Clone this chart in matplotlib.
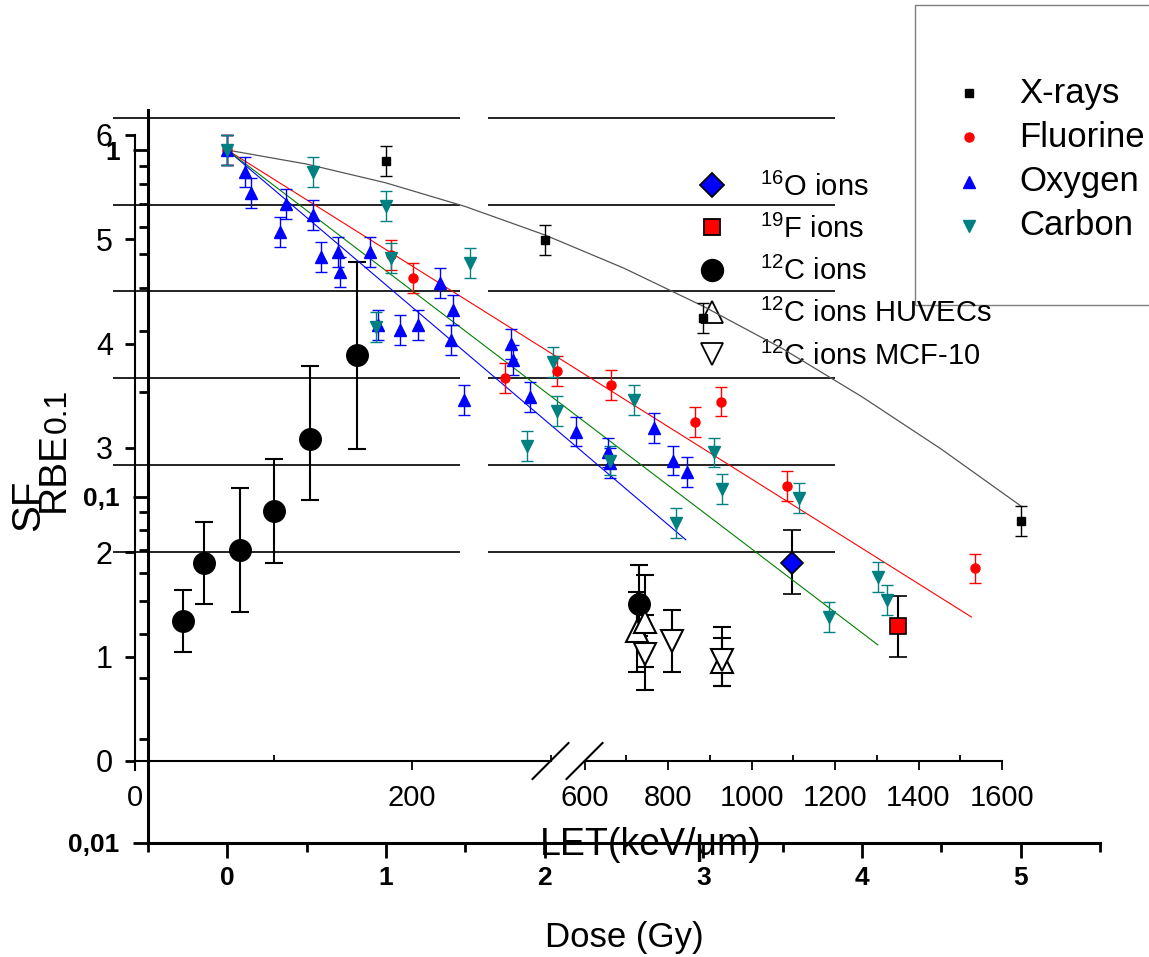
import numpy as np
import matplotlib
matplotlib.use("Agg")
import matplotlib.pyplot as plt
from matplotlib import transforms
from matplotlib.patches import Rectangle

plt.rcParams['font.family'] = ['Liberation Sans', 'DejaVu Sans']
plt.rcParams['mathtext.fontset'] = 'custom'
plt.rcParams['mathtext.rm'] = 'Liberation Sans'
plt.rcParams['mathtext.default'] = 'regular'

####### CONSTANTS #######
W, H = 1149, 957
SF_ERR_DEC = 0.043   # error bar half length in decades

####### DATA: survival fraction vs dose #######
xray_dose = [0, 1, 2, 3, 5]
xray_sf = [1.0, 0.93, 0.55, 0.327, 0.085]
xray_fit_dose = [0, 0.5, 1, 1.5, 2, 2.5, 3, 3.5, 4, 4.5, 5]
xray_fit_sf = [1.0, 0.911, 0.804, 0.687, 0.569, 0.456, 0.354, 0.267, 0.194, 0.137, 0.094]

fluor_dose = [0, 1.03, 1.17, 1.75, 2.08, 2.42, 2.95, 3.11, 3.53, 4.71]
fluor_sf = [1.0, 0.498, 0.427, 0.22, 0.23, 0.21, 0.164, 0.188, 0.107, 0.062]
fluor_fit_dose = [0, 4.69]
fluor_fit_sf = [1.0, 0.0449]

oxy_dose = [0, 0.11, 0.15, 0.33, 0.37, 0.54, 0.59, 0.70, 0.71, 0.90, 0.95, 1.09,
            1.20, 1.34, 1.41, 1.42, 1.49, 1.79, 1.80, 1.91, 2.20, 2.40, 2.41,
            2.69, 2.81, 2.90]
oxy_sf = [1.0, 0.864, 0.751, 0.58, 0.698, 0.649, 0.49, 0.508, 0.445, 0.508, 0.313,
          0.302, 0.313, 0.413, 0.283, 0.345, 0.19, 0.276, 0.248, 0.194, 0.154,
          0.134, 0.125, 0.158, 0.127, 0.118]
oxy_fit_dose = [0, 2.89]
oxy_fit_sf = [1.0, 0.075]

carb_dose = [0, 0.54, 0.94, 1.0, 1.03, 1.53, 1.89, 2.05, 2.08, 2.41, 2.56, 2.83,
             3.07, 3.12, 3.60, 3.79, 4.10, 4.16]
carb_sf = [1.0, 0.864, 0.308, 0.689, 0.488, 0.472, 0.14, 0.245, 0.177, 0.127, 0.19,
           0.084, 0.134, 0.105, 0.099, 0.0449, 0.0585, 0.0503]
carb_fit_dose = [0, 4.1]
carb_fit_sf = [1.0, 0.0373]

####### DATA: RBE vs LET #######
c12_let = [35, 50, 76, 100, 126, 160, 730]
c12_rbe = [1.34, 1.90, 2.02, 2.40, 3.09, 3.89, 1.50]
c12_lo = [1.04, 1.50, 1.43, 1.90, 2.50, 2.99, 1.20]
c12_hi = [1.64, 2.29, 2.62, 2.89, 3.79, 4.78, 1.88]

o16_let = [1098]
o16_rbe = [1.90]
o16_lo = [1.60]
o16_hi = [2.21]

f19_let = [1351]
f19_rbe = [1.29]
f19_lo = [1.00]
f19_hi = [1.58]

huv_let = [726, 745, 930]
huv_rbe = [1.25, 1.33, 0.95]
huv_lo = [0.85, 0.90, 0.72]
huv_hi = [1.62, 1.78, 1.18]

mcf_let = [745, 810, 930]
mcf_rbe = [1.03, 1.15, 0.97]
mcf_lo = [0.68, 0.85, 0.72]
mcf_hi = [1.40, 1.45, 1.28]

grid_rbe = [2.0, 2.833, 3.667, 4.5, 5.333, 6.167]


####### FUNCTIONS #######
def px_rect(x0, y0, x1, y1):
    # pixel box (top-left origin) -> figure fraction rect
    return [x0 / W, 1 - y1 / H, (x1 - x0) / W, (y1 - y0) / H]


def sf_err(sf):
    sf = np.array(sf)
    return [sf * (1 - 10 ** -SF_ERR_DEC), sf * (10 ** SF_ERR_DEC - 1)]


def rbe_series(let, rbe, lo, hi, style):
    # split points over the two segments of the broken LET axis
    for ax, keep in ((ax_rl, lambda v: v <= 300), (ax_rr, lambda v: v >= 600)):
        idx = [i for i, v in enumerate(let) if keep(v)]
        if not idx:
            continue
        x = [let[i] for i in idx]
        y = [rbe[i] for i in idx]
        err = [[rbe[i] - lo[i] for i in idx], [hi[i] - rbe[i] for i in idx]]
        ax.errorbar(x, y, yerr=err, linestyle='none', ecolor='black', elinewidth=1.5,
                    capsize=6.5, capthick=1.5, zorder=3, **style)


####### FIGURE #######
fig = plt.figure(figsize=(W / 100, H / 100), dpi=100)

# pixel overlay for decoration
ax_ov = fig.add_axes([0, 0, 1, 1], zorder=0)
ax_ov.set_xlim(0, W)
ax_ov.set_ylim(H, 0)
ax_ov.axis('off')

# RBE vs LET (broken axis)
ax_rl = fig.add_axes(px_rect(135, 135, 550.5, 770), zorder=1)
ax_rr = fig.add_axes(px_rect(584.5, 135, 1002, 770), zorder=1)
for ax, lim in ((ax_rl, (0, 300)), (ax_rr, (600, 1600))):
    ax.set_facecolor('none')
    ax.set_xlim(*lim)
    ax.set_ylim(-0.0863, 6.0)
    ax.spines['top'].set_visible(False)
    ax.spines['right'].set_visible(False)
    ax.spines['bottom'].set_position(('data', 0))
    ax.spines['bottom'].set_linewidth(1.5)
    ax.tick_params(axis='x', which='major', direction='out', length=6.5, width=1.3,
                   labelsize=21, pad=10)
    ax.tick_params(axis='x', which='minor', direction='in', length=4.3, width=1.3)
ax_rl.set_xticks([0, 200])
ax_rl.set_xticks([100, 300], minor=True)
ax_rr.set_xticks([600, 800, 1000, 1200, 1400, 1600])
ax_rr.set_xticks([700, 900, 1100, 1300, 1500], minor=True)
ax_rl.spines['left'].set_linewidth(1.5)
ax_rl.set_yticks([0, 1, 2, 3, 4, 5, 6])
ax_rl.tick_params(axis='y', direction='out', length=7, width=2, labelsize=22, pad=9)
ax_rr.spines['left'].set_visible(False)
ax_rr.set_yticks([])
ax_rl.set_ylabel('RBE', fontsize=28, va='center', ha='center')
ax_rl.yaxis.set_label_coords(-0.195, (770 - 472) / 635)
ax_rl.text(-0.185, (770 - 411) / 635, '0.1', fontsize=23, rotation=90,
           transform=ax_rl.transAxes, va='center', ha='center', clip_on=False)
ax_rr.set_xlabel('LET(keV/μm)', fontsize=27, va='center', ha='center')
ax_rr.xaxis.set_label_coords(0.158, -0.118)

rbe_series(c12_let, c12_rbe, c12_lo, c12_hi,
           dict(marker='o', ms=15.5, mfc='black', mec='black'))
rbe_series(o16_let, o16_rbe, o16_lo, o16_hi,
           dict(marker='D', ms=11.5, mfc='#0000ff', mec='black', mew=1.2))
rbe_series(f19_let, f19_rbe, f19_lo, f19_hi,
           dict(marker='s', ms=12, mfc='#ff0000', mec='black', mew=1.2))
rbe_series(huv_let, huv_rbe, huv_lo, huv_hi,
           dict(marker='^', ms=16, mfc='white', mec='black', mew=1.5))
rbe_series(mcf_let, mcf_rbe, mcf_lo, mcf_hi,
           dict(marker='v', ms=16, mfc='white', mec='black', mew=1.5))

# SF vs dose
ax_sf = fig.add_axes(px_rect(148, 110, 1100, 843), zorder=2)
ax_sf.set_facecolor('none')
ax_sf.set_xlim(-0.5, 5.5)
ax_sf.set_yscale('log')
ax_sf.set_ylim(0.01, 1.305)
ax_sf.spines['top'].set_visible(False)
ax_sf.spines['right'].set_visible(False)
for s in ('left', 'bottom'):
    ax_sf.spines[s].set_linewidth(2.2)
ax_sf.set_xticks([0, 1, 2, 3, 4, 5], ['0', '1', '2', '3', '4', '5'],
                 fontweight='bold', fontsize=19)
ax_sf.set_xticks([-0.5, 0.5, 1.5, 2.5, 3.5, 4.5, 5.5], minor=True)
ax_sf.set_yticks([0.01, 0.1, 1], ['0,01', '0,1', '1'], fontweight='bold', fontsize=19)
ax_sf.set_yticks([m * d for d in (0.01, 0.1) for m in range(2, 10)], minor=True)
ax_sf.yaxis.set_minor_formatter(matplotlib.ticker.NullFormatter())
ax_sf.tick_params(which='major', direction='out', length=10.5, width=2)
ax_sf.tick_params(which='minor', direction='out', length=6.5, width=2)
ax_sf.tick_params(axis='x', pad=6)
ax_sf.tick_params(axis='y', pad=10)
ax_sf.set_xlabel('Dose (Gy)', fontsize=25, va='center')
ax_sf.xaxis.set_label_coords(0.5, -0.1296)
ax_sf.set_ylabel('SF', fontsize=29, va='center', ha='center')
ax_sf.yaxis.set_label_coords(-0.126, 0.461)

ax_sf.plot(xray_fit_dose, xray_fit_sf, color='#555555', lw=0.9)
ax_sf.plot(fluor_fit_dose, fluor_fit_sf, color='#ff0000', lw=0.8)
ax_sf.plot(oxy_fit_dose, oxy_fit_sf, color='#0000ff', lw=0.8)
ax_sf.plot(carb_fit_dose, carb_fit_sf, color='#008000', lw=0.8)

series = [
    (xray_dose, xray_sf, 's', 6, 'black'),
    (fluor_dose, fluor_sf, 'o', 6.5, '#ff0000'),
    (oxy_dose, oxy_sf, '^', 8, '#0000ff'),
    (carb_dose, carb_sf, 'v', 8, '#008080'),
]
for d, sf, mk, ms, col in series:
    ax_sf.errorbar(d, sf, yerr=sf_err(sf), linestyle='none', marker=mk, ms=ms,
                   mfc=col, mec=col, ecolor=col, elinewidth=1, capsize=4.5,
                   capthick=1, zorder=3)

# broken-graph gridlines and axis break marks
grid_tr = transforms.blended_transform_factory(ax_ov.transData, ax_rl.transData)
for seg in ((113, 460), (488, 835)):
    ax_ov.hlines(grid_rbe, seg[0], seg[1], color='#222222', lw=1.4, transform=grid_tr)

fig.canvas.draw()
for ax, xv in ((ax_rl, 300), (ax_rr, 600)):
    px, py = ax.transData.transform((xv, 0))
    py = H - py
    ax_ov.plot([px - 18, px + 18], [py + 18, py - 18], color='black', lw=1.5)

# RBE legend
rbe_leg = [
    ('D', 12.5, '#0000ff', r'$^{16}$O ions'),
    ('s', 12, '#ff0000', r'$^{19}$F ions'),
    ('o', 15.5, 'black', r'$^{12}$C ions'),
    ('^', 16, 'white', r'$^{12}$C ions HUVECs'),
    ('v', 16, 'white', r'$^{12}$C ions MCF-10'),
]
for i, (mk, ms, col, lab) in enumerate(rbe_leg):
    y = 185 + i * 42.3
    ax_ov.plot([712], [y], marker=mk, ms=ms, mfc=col,
               mec='black', mew=1.3, linestyle='none')
    ax_ov.text(760, y + 2, lab, fontsize=21, va='center', ha='left')

# SF legend
sf_leg = [('s', 6, 'black', 'X-rays'), ('o', 6.5, '#ff0000', 'Fluorine'),
          ('^', 8, '#0000ff', 'Oxygen'), ('v', 8, '#008080', 'Carbon')]
ax_ov.add_patch(Rectangle((915, 5), 260, 300, fill=False, ec='#7f7f7f', lw=1,
                          clip_on=False))
for i, (mk, ms, col, lab) in enumerate(sf_leg):
    y = 93 + i * 44.3
    ax_ov.plot([969], [y], marker=mk, ms=ms, mfc=col, mec=col, linestyle='none')
    ax_ov.text(1019, y, lab, fontsize=25, va='center', ha='left')

fig.savefig('out.png', dpi=100)
